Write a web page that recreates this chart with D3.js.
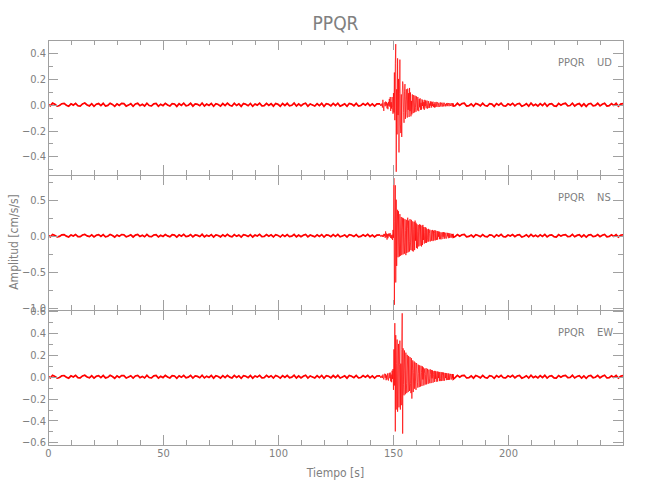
<!DOCTYPE html>
<html><head><meta charset="utf-8">
<script src="https://cdn.jsdelivr.net/npm/d3@7"></script>
<style>
body{margin:0;background:#fff}
text{font-family:"DejaVu Sans Condensed","DejaVu Sans",sans-serif;fill:#808080}
</style>
</head><body><svg id="c" width="650" height="500"></svg>
<script>
// ---------------- DATA ----------------
const station = "PPQR";
const channels = ["UD", "NS", "EW"];
const xLabel = "Tiempo [s]";
const yLabel = "Amplitud [cm/s/s]";
// sampling of the typed values (seconds)
const quietStep = 1, activeStart = 144.4, activeStep = 0.2, quiet2Start = 177;
// amplitudes in thousandths of cm/s/s
const udQuiet1 = [5,-9,12,3,-11,-6,8,10,-4,-12,7,-3,11,-8,-10,6,13,-2,-9,8,
-12,4,9,-7,11,-10,-5,12,2,-13,7,-6,10,9,-11,-3,8,-12,6,11,
-8,3,-10,12,-6,-9,7,10,-12,4,-7,11,-2,-10,9,6,-13,8,-5,12,
-9,-4,11,-11,7,3,-8,13,-10,5,-6,10,-12,8,2,-11,9,-7,12,-4,
-10,11,-6,7,-13,9,4,-8,10,-12,6,-3,12,-9,-7,11,-5,8,-11,10,
3,-12,9,-6,11,-8,-4,13,-10,7,-9,5,12,-11,6,-2,-10,9,-7,11,
-13,8,4,-9,10,-6,12,-11,-3,7,-12,10,5,-8,11,-10,-6,9,-4,12,
-9,7,-11,6];
const udActive = [6,-9,4,-7,10, -22,38,-8,-48,15, 18,-12,25,-6,20, -28,10,-35,22,-8,
45,-15,60,-48,20, -30,60,-20,-70,90, -60,250,-120,320,470, -520,120,-230,360,-80,
200,-370,90,350,-150, -220,80,-250,60,180, 150,-60,-140,100,160, -110,40,120,-60,-100,
125,-40,90,-95,130, -50,95,-90,30,-75, 80,-25,-65,75,20, -60,70,-20,-55,65,
30,-45,60,-15,-50, 45,-20,50,-40,15, -38,42,-10,35,-30, 20,-40,38,-12,33,
-28,12,32,-30,8, 28,-26,10,-24,26, -8,25,-22,20,-10, 24,-18,6,-22,20,
-20,10,22,-16,8, 19,-18,6,15,-16, -8,18,-14,5,16, -15,6,16,-13,8,
15,-12,4,-13,12, -6,14,-11,3,13, -12,8,13,-10,5, 12,-11,4,11,-10];
const udQuiet2 = [-8,11,-5,9,12,-10,-7,6,-12,10,3,-9,11,-6,-11,8,5,-13,9,-4,
12,-8,-10,7,-3,11,-9,6,10,-12,-5,8,-11,13,-7,4,-10,9,-6,12,
-11,5,8,-9,-12,10,-4,7,11,-8,-6,12,-10,3,9,-11,7,-13,6,10,
-8,-5,11,-9,4,12,-10,-7,8,-6,11,-12,5,9];

const nsQuiet1 = [8,-15,18,4,-16,-9,12,15,-6,-18,11,-5,17,-12,-14,9,19,-3,-13,12,
-17,6,14,-10,16,-15,-7,18,3,-19,10,-9,15,13,-16,-4,12,-18,9,16,
-12,5,-15,18,-9,-13,10,15,-18,6,-10,16,-3,-15,13,9,-19,12,-7,18,
-13,-6,16,-16,10,4,-12,19,-15,7,-9,15,-18,12,3,-16,13,-10,18,-6,
-15,16,-9,10,-19,13,6,-12,15,-18,9,-4,18,-13,-10,16,-7,12,-16,15,
4,-18,13,-9,16,-12,-6,19,-15,10,-13,7,18,-16,9,-3,-15,13,-10,16,
-19,12,6,-13,15,-9,18,-16,-4,10,-18,15,7,-12,16,-15,-9,13,-6,18,
-13,10,-16,9];
const nsActive = [10,-12,5,-10,12, -15,8,-18,25,-6, 25,-30,60,-20,30, -55,20,-35,28,-10,
30,-12,35,-32,8, -40,15,-60,80,-30, 800,-960,200,700,-650, 500,-420,120,360,-300,
340,-100,-290,300,-280, 120,260,-270,80,250, -260,240,-90,-250,230, 70,-270,220,-240,100,
250,-230,210,-80,-220, 230,-100,-200,220,-60, -210,200,-220,90,190, -200,210,-70,180,-170,
160,-180,60,150,-150, 80,160,-140,150,-50, -150,140,-130,150,-60, 120,-110,40,120,-100,
110,-100,90,-30,-85, 95,-80,30,85,-80, -75,75,-70,20,80, -75,70,-65,30,78,
-65,70,-20,-60,65, -55,60,-15,58,-48, 52,-50,20,45,-50, -45,48,-15,50,-42,
45,-40,12,42,-38, -36,40,-10,38,-35, 33,-30,32,-12,-28, 26,-25,10,24,-22];
const nsQuiet2 = [-12,16,-7,13,18,-15,-10,9,-18,15,4,-13,16,-9,-16,12,7,-19,13,-6,
18,-12,-15,10,-4,16,-13,9,15,-18,-7,12,-16,19,-10,6,-15,13,-9,18,
-16,7,12,-13,-18,15,-6,10,16,-12,-9,18,-15,4,13,-16,10,-19,9,15,
-12,-7,16,-13,6,18,-15,-10,12,-9,16,-18,7,13];

const ewQuiet1 = [6,-11,13,3,-12,-7,9,11,-4,-13,8,-3,12,-9,-11,7,14,-2,-10,9,
-13,4,10,-8,12,-11,-5,13,2,-14,8,-7,11,10,-12,-3,9,-13,7,12,
-9,3,-11,13,-7,-10,8,11,-13,4,-8,12,-2,-11,10,7,-14,9,-5,13,
-10,-4,12,-12,8,3,-9,14,-11,5,-7,11,-13,9,2,-12,10,-8,13,-4,
-11,12,-7,8,-14,10,4,-9,11,-13,7,-3,13,-10,-8,12,-5,9,-12,11,
3,-13,10,-7,12,-9,-4,14,-11,8,-10,5,13,-12,7,-2,-11,10,-8,12,
-14,9,4,-10,11,-7,13,-12,-3,8,-13,11,5,-9,12,-11,-7,10,-4,13,
-10,8,-12,7];
const ewActive = [8,-10,4,-7,10, -12,20,-6,-25,18, 28,-10,25,-32,12, -25,30,-8,-35,28,
35,-14,38,-42,20, -50,55,-20,70,-120, 250,-80,490,-500,380, -300,120,340,-320,90,
300,-280,110,330,-300, 120,-260,250,580,-520, 260,-70,-170,240,60, -160,220,-60,-150,200,
80,-140,190,-40,-130, 180,-60,-150,170,-200, 60,150,-140,40,140, -110,130,-40,-120,125,
115,-50,-100,110,30, -95,105,-30,-90,100, 40,-85,95,-25,85, -80,30,75,-72,20,
78,-70,25,72,-65, -62,65,-20,-60,68, 22,-58,62,-15,58, -55,20,52,-48,54,
-20,50,-46,15,48, -44,47,-12,42,-40, 44,-15,-40,42,-38, 12,41,-37,38,-10,
-36,35,-12,34,-31, 32,-10,-30,31,-29, 28,-27,8,26,-25, -24,25,-8,24,-22];
const ewQuiet2 = [-9,12,-5,10,13,-11,-8,7,-13,11,3,-10,12,-7,-12,9,5,-14,10,-4,
13,-9,-11,8,-3,12,-10,7,11,-13,-5,9,-12,14,-8,4,-11,10,-7,13,
-12,5,9,-10,-13,11,-4,8,12,-9,-7,13,-11,3,10,-12,8,-14,7,11,
-9,-5,12,-10,4,13,-11,-8,9,-7,12,-13,5,10];

// axis ranges and ticks
const xRange = [0, 250];
const xTicks = [0, 50, 100, 150, 200];
const xMinor = [10,20,30,40,60,70,80,90,110,120,130,140,160,170,180,190,210,220,230,240];
const udRange = [-0.545, 0.502], udTicks = [-0.4,-0.2,0,0.2,0.4], udMinor = [-0.5,-0.3,-0.1,0.1,0.3,0.5];
const nsRange = [-1.032, 0.843], nsTicks = [-1.0,-0.5,0,0.5], nsMinor = [-0.75,-0.25,0.25,0.75];
const ewRange = [-0.624, 0.61], ewTicks = [-0.6,-0.4,-0.2,0,0.2,0.4,0.6], ewMinor = [-0.5,-0.3,-0.1,0.1,0.3,0.5];

// ---------------- DRAW ----------------
const svg = d3.select("#c");
const left = 48, right = 623, top0 = 40, panelH = 135;
const axisCol = "#a0a0a0";

function series(q1, act, q2) {
  const pts = [];
  q1.forEach((v, i) => pts.push([i * quietStep, v / 1000]));
  act.forEach((v, i) => pts.push([activeStart + i * activeStep, v / 1000]));
  q2.forEach((v, i) => pts.push([quiet2Start + i * quietStep, v / 1000]));
  return pts;
}
const panels = [
  {name: channels[0], data: series(udQuiet1, udActive, udQuiet2), range: udRange, ticks: udTicks, minor: udMinor},
  {name: channels[1], data: series(nsQuiet1, nsActive, nsQuiet2), range: nsRange, ticks: nsTicks, minor: nsMinor},
  {name: channels[2], data: series(ewQuiet1, ewActive, ewQuiet2), range: ewRange, ticks: ewTicks, minor: ewMinor}
];

const x = d3.scaleLinear().domain(xRange).range([left, right]);
const fmt = d3.format(".1f");

function styleAxis(g) {
  g.selectAll("path, line").attr("stroke", axisCol).attr("stroke-width", 1).attr("shape-rendering", "crispEdges");
  g.selectAll("text").attr("fill", "#808080").style("font-family", '"DejaVu Sans Condensed","DejaVu Sans",sans-serif');
}

panels.forEach((p, i) => {
  const y0 = top0 + i * panelH, y1 = y0 + panelH;
  const y = d3.scaleLinear().domain(p.range).range([y1, y0]);
  const g = svg.append("g");

  svg.append("clipPath").attr("id", "clip" + i)
    .append("rect").attr("x", left).attr("y", y0).attr("width", right - left).attr("height", panelH);

  const line = d3.line().x(d => x(d[0])).y(d => y(d[1]));
  const tr = g.append("g").attr("clip-path", `url(#clip${i})`);
  tr.append("path").datum(p.data)
    .attr("fill", "none").attr("stroke", "#ff0000").attr("stroke-width", 0.7)
    .attr("d", line);
  // quiet stretches drawn bolder, as the noise band in the reference
  tr.append("path").datum(p.data.filter(d => d[0] <= 144.4))
    .attr("fill", "none").attr("stroke", "#ff0000").attr("stroke-width", 1.7)
    .attr("d", line);
  tr.append("path").datum(p.data.filter(d => d[0] >= 176))
    .attr("fill", "none").attr("stroke", "#ff0000").attr("stroke-width", 1.7)
    .attr("d", line);

  // left axis
  g.append("g").attr("transform", `translate(${left},0)`)
    .call(d3.axisLeft(y).tickValues(p.ticks).tickSize(-10).tickSizeOuter(0).tickPadding(2).tickFormat(fmt))
    .call(styleAxis).selectAll("text").attr("font-size", 11);
  g.append("g").attr("transform", `translate(${left},0)`)
    .call(d3.axisLeft(y).tickValues(p.minor).tickSize(-5).tickSizeOuter(0).tickFormat(""))
    .call(styleAxis);
  // right axis
  g.append("g").attr("transform", `translate(${right},0)`)
    .call(d3.axisRight(y).tickValues(p.ticks).tickSize(-10).tickSizeOuter(0).tickFormat(""))
    .call(styleAxis);
  g.append("g").attr("transform", `translate(${right},0)`)
    .call(d3.axisRight(y).tickValues(p.minor).tickSize(-5).tickSizeOuter(0).tickFormat(""))
    .call(styleAxis);
  // top axis
  g.append("g").attr("transform", `translate(0,${y0})`)
    .call(d3.axisTop(x).tickValues(xTicks).tickSize(-10).tickSizeOuter(0).tickFormat(""))
    .call(styleAxis);
  g.append("g").attr("transform", `translate(0,${y0})`)
    .call(d3.axisTop(x).tickValues(xMinor).tickSize(-5).tickSizeOuter(0).tickFormat(""))
    .call(styleAxis);
  // bottom axis
  const last = i === panels.length - 1;
  g.append("g").attr("transform", `translate(0,${y1})`)
    .call(d3.axisBottom(x).tickValues(xTicks).tickSize(-10).tickSizeOuter(0).tickPadding(4)
      .tickFormat(last ? d3.format("d") : ""))
    .call(styleAxis).selectAll("text").attr("font-size", 11);
  g.append("g").attr("transform", `translate(0,${y1})`)
    .call(d3.axisBottom(x).tickValues(xMinor).tickSize(-5).tickSizeOuter(0).tickFormat(""))
    .call(styleAxis);

  // channel label
  g.append("text").attr("x", 558).attr("y", y0 + 26).attr("font-size", 11).text(station);
  g.append("text").attr("x", 597).attr("y", y0 + 26).attr("font-size", 11).text(p.name);
});

// title
svg.append("text").attr("x", (left + right) / 2).attr("y", 30).attr("text-anchor", "middle")
  .attr("font-size", 19).text(station);
// axis labels
svg.append("text").attr("x", (left + right) / 2).attr("y", 477).attr("text-anchor", "middle")
  .attr("font-size", 12).text(xLabel);
svg.append("text").attr("transform", "translate(18,242) rotate(-90)").attr("text-anchor", "middle")
  .attr("font-size", 12).text(yLabel);
</script>
</body></html>
